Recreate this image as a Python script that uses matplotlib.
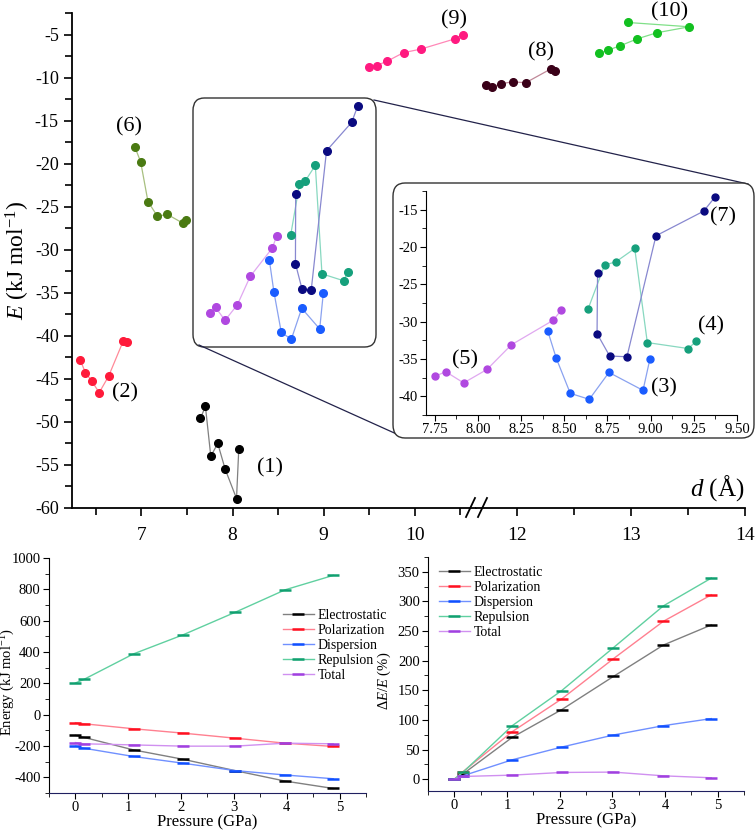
import matplotlib.pyplot as plt
import matplotlib.patches as mpatches
from matplotlib.lines import Line2D
from matplotlib.ticker import MultipleLocator, FormatStrFormatter

plt.rcParams['font.family'] = ['Liberation Serif', 'DejaVu Serif']
plt.rcParams['mathtext.fontset'] = 'custom'
plt.rcParams['mathtext.rm'] = 'Liberation Serif'
plt.rcParams['mathtext.it'] = 'Liberation Serif:italic'
plt.rcParams['axes.unicode_minus'] = False

# ---- top panel: E vs d for the ten dimers ----
d1 = [7.648, 7.703, 7.762, 7.838, 7.920, 8.044, 8.069]
e1 = [-49.6, -48.2, -54.0, -52.5, -55.5, -58.9, -53.1]
d2 = [6.330, 6.388, 6.454, 6.538, 6.641, 6.802, 6.846]
e2 = [-42.8, -44.3, -45.2, -46.6, -44.7, -40.6, -40.7]
d3 = [8.404, 8.454, 8.535, 8.645, 8.759, 8.956, 8.996]
e3 = [-31.2, -34.9, -39.6, -40.4, -36.8, -39.2, -35.0]
d4 = [8.638, 8.734, 8.798, 8.908, 8.981, 9.218, 9.265]
e4 = [-28.3, -22.4, -22.0, -20.2, -32.8, -33.6, -32.6]
d5 = [7.754, 7.814, 7.918, 8.053, 8.194, 8.437, 8.484]
e5 = [-37.3, -36.7, -38.2, -36.4, -33.1, -29.8, -28.4]
d6 = [6.931, 6.993, 7.073, 7.176, 7.286, 7.454, 7.495]
e6 = [-18.1, -19.8, -24.4, -26.1, -25.9, -26.9, -26.6]
d7 = [8.693, 8.690, 8.763, 8.863, 9.031, 9.307, 9.373]
e7 = [-23.5, -31.6, -34.6, -34.7, -18.5, -15.2, -13.3]
d8 = [11.728, 11.783, 11.862, 11.962, 12.076, 12.296, 12.336]
e8 = [-10.9, -11.1, -10.7, -10.5, -10.6, -9.0, -9.2]
d9 = [9.498, 9.579, 9.696, 9.876, 10.063, 10.440, 10.527]
e9 = [-8.8, -8.6, -8.1, -7.1, -6.7, -5.5, -5.0]
d10 = [12.719, 12.801, 12.906, 13.055, 13.225, 13.511, 12.971]
e10 = [-7.2, -6.8, -6.3, -5.5, -4.8, -4.1, -3.6]

# ---- bottom panels: energy terms vs pressure ----
pressure = [0.0, 0.16, 1.1, 2.04, 3.02, 3.97, 4.88]
terms = ['Electrostatic', 'Polarization', 'Dispersion', 'Repulsion', 'Total']
energy_elec = [-132, -145, -225, -285, -357, -424, -471]
energy_pol = [-51, -58, -90, -118, -150, -182, -203]
energy_disp = [-201, -214, -267, -310, -357, -385, -409]
energy_rep = [202, 225, 388, 510, 653, 797, 889]
energy_tot = [-178, -186, -193, -201, -201, -182, -186]
rel_elec = [0, 8.5, 70.6, 117.4, 173.3, 226.4, 260.3]
rel_pol = [0, 12.4, 80.2, 135.5, 203.3, 266.5, 311.1]
rel_disp = [0, 5.6, 32.7, 54.2, 74.5, 90.3, 102.2]
rel_rep = [0, 11.3, 90.3, 149.6, 221.9, 292.5, 339.4]
rel_tot = [0, 4.5, 6.8, 11.3, 11.9, 5.6, 2.3]

# (marker colour, line colour)
sty = {1: ('#000000', '#808080'), 2: ('#ff1a3a', '#ff8a98'),
       3: ('#1a5cff', '#8aa2f0'), 4: ('#16a07c', '#88d8c0'),
       5: ('#b048e0', '#e0a8f0'), 6: ('#4a7a12', '#a8c080'),
       7: ('#0a0a80', '#8888d0'), 8: ('#3a0018', '#c08898'),
       9: ('#ff1a80', '#ff88b8'), 10: ('#12c020', '#80e088')}
term_sty = [('#000000', '#808080'), ('#ff1020', '#ff8090'),
            ('#1050ff', '#7090ff'), ('#10a070', '#60d0a0'),
            ('#a040e0', '#d090f0')]

W, H = 756, 830
fig = plt.figure(figsize=(W / 100, H / 100), dpi=100)


def fr(x0, y0, x1, y1):
    # pixel box (top-left origin) -> figure rect
    return [x0 / W, (H - y1) / H, (x1 - x0) / W, (y1 - y0) / H]


def series(ax, d, e, k, ms=5.5):
    mc, lc = sty[k]
    ax.plot(d, e, '-', color=lc, lw=0.9, zorder=2)
    ax.plot(d, e, 'o', color=mc, ms=ms, mec=mc, zorder=3)


axL = fig.add_axes(fr(72, 13, 476, 508))
axR = fig.add_axes(fr(476, 13, 745, 508), sharey=axL)
for ax in (axL, axR):
    ax.spines['top'].set_visible(False)
    ax.spines['right'].set_visible(False)
    ax.tick_params(direction='out', labelsize=14, length=6, width=1.2)
    ax.tick_params(which='minor', direction='out', length=5, width=1.2)
    ax.spines['bottom'].set_linewidth(1.3)
    ax.spines['left'].set_linewidth(1.3)
axR.spines['left'].set_visible(False)
axR.tick_params(axis='y', which='both', left=False, labelleft=False)

axL.set_xlim(6.24, 10.67)
axR.set_xlim(11.64, 14.0)
axL.set_ylim(-60, -2.5)
axL.xaxis.set_major_locator(MultipleLocator(1))
axL.xaxis.set_minor_locator(MultipleLocator(0.5))
axR.xaxis.set_major_locator(MultipleLocator(1))
axR.xaxis.set_minor_locator(MultipleLocator(0.5))
axL.yaxis.set_major_locator(MultipleLocator(5))
axL.yaxis.set_minor_locator(MultipleLocator(2.5))
axL.tick_params(axis='y', labelsize=13)
axL.tick_params(axis='x', pad=8)
axR.tick_params(axis='x', pad=8)
axL.set_ylabel(r'$E$ (kJ mol$^{-1}$)', fontsize=17, labelpad=2)

for d, e, k in [(d1, e1, 1), (d2, e2, 2), (d3, e3, 3), (d4, e4, 4),
                (d5, e5, 5), (d6, e6, 6), (d7, e7, 7), (d9, e9, 9)]:
    series(axL, d, e, k)
series(axR, d8, e8, 8)
series(axR, d10, e10, 10)

axL.text(6.87, -15.75, '(6)', fontsize=16, ha='center', va='center')
axL.text(6.825, -46.65, '(2)', fontsize=16, ha='center', va='center')
axL.text(8.41, -55.35, '(1)', fontsize=16, ha='center', va='center')
axL.text(10.43, -3.3, '(9)', fontsize=16, ha='center', va='center')
axR.text(12.21, -7.0, '(8)', fontsize=16, ha='center', va='center')
axR.text(13.34, -2.4, '(10)', fontsize=16, ha='center', va='center')
fig.text(744 / W, (H - 503) / H, r'$d$ (Å)', fontsize=18, ha='right', va='bottom')

# axis break marks
for x0 in (466, 478):
    fig.add_artist(Line2D([x0 / W, (x0 + 9) / W], [(H - 517) / H, (H - 498) / H],
                          color='black', lw=1.3))

# zoom box, connectors and inset frame
fig.add_artist(mpatches.FancyBboxPatch((193 / W, (H - 347) / H), 183 / W, 249 / H,
                                       boxstyle='round,pad=0,rounding_size=0.015',
                                       transform=fig.transFigure, fc='none',
                                       ec='#333333', lw=1.0, zorder=2))
fig.add_artist(Line2D([374 / W, 748 / W], [(H - 100) / H, (H - 184) / H],
                      color='#22224a', lw=0.9, zorder=2))
fig.add_artist(Line2D([199 / W, 401 / W], [(H - 345) / H, (H - 436) / H],
                      color='#22224a', lw=0.9, zorder=2))
fig.add_artist(mpatches.FancyBboxPatch((393 / W, (H - 438) / H), 361 / W, 255 / H,
                                       boxstyle='round,pad=0,rounding_size=0.016',
                                       transform=fig.transFigure, fc='white',
                                       ec='#333333', lw=1.0, zorder=2.5))

axI = fig.add_axes(fr(426, 191, 737, 415), zorder=3)
axI.patch.set_alpha(0)
axI.spines['top'].set_visible(False)
axI.spines['right'].set_visible(False)
axI.set_xlim(7.70, 9.50)
axI.set_ylim(-42.5, -12.5)
axI.xaxis.set_major_locator(MultipleLocator(0.25))
axI.xaxis.set_minor_locator(MultipleLocator(0.125))
axI.xaxis.set_major_formatter(FormatStrFormatter('%.2f'))
axI.yaxis.set_major_locator(MultipleLocator(5))
axI.yaxis.set_minor_locator(MultipleLocator(2.5))
axI.tick_params(direction='out', labelsize=10.5, length=4, pad=2)
axI.tick_params(which='minor', direction='out', length=3)
for d, e, k in [(d3, e3, 3), (d4, e4, 4), (d5, e5, 5), (d7, e7, 7)]:
    series(axI, d, e, k, ms=5)
axI.text(9.42, -15.9, '(7)', fontsize=16, ha='center', va='center')
axI.text(7.925, -35.15, '(5)', fontsize=16, ha='center', va='center')
axI.text(9.35, -30.6, '(4)', fontsize=16, ha='center', va='center')
axI.text(9.08, -38.8, '(3)', fontsize=16, ha='center', va='center')


# ---- bottom panels ----
def term_axes(rect):
    ax = fig.add_axes(rect)
    ax.spines['top'].set_visible(False)
    ax.spines['right'].set_visible(False)
    ax.spines['bottom'].set_color('#202060')
    ax.set_xlim(-0.5, 5.5)
    ax.xaxis.set_major_locator(MultipleLocator(1))
    ax.xaxis.set_minor_locator(MultipleLocator(0.5))
    ax.tick_params(direction='out', labelsize=10.5, length=4, pad=2)
    ax.tick_params(which='minor', direction='out', length=3)
    ax.set_xlabel('Pressure (GPa)', fontsize=12, labelpad=0)
    return ax


axE = term_axes(fr(49, 558, 366, 793))
axE.set_ylim(-500, 1000)
axE.yaxis.set_major_locator(MultipleLocator(200))
axE.yaxis.set_minor_locator(MultipleLocator(100))
axE.set_ylabel('Energy (kJ mol$^{-1}$)', fontsize=10.5)
axE.yaxis.set_label_coords(-0.1, 0.47)
for vals, lab, (mc, lc) in zip([energy_elec, energy_pol, energy_disp, energy_rep, energy_tot],
                               terms, term_sty):
    axE.plot(pressure, vals, '-', color=lc, lw=1.0, marker='_', ms=9,
             mew=1.8, mec=mc, label=lab)
axE.legend(loc='upper left', bbox_to_anchor=(283 / W, (H - 609) / H),
           bbox_transform=fig.transFigure, frameon=False, fontsize=10,
           handlelength=2.2, handletextpad=0.3, labelspacing=0.15,
           borderpad=0, borderaxespad=0, numpoints=1)

axP = term_axes(fr(428, 557, 744, 791))
axP.set_ylim(-20, 375)
axP.yaxis.set_major_locator(MultipleLocator(50))
axP.yaxis.set_minor_locator(MultipleLocator(25))
axP.set_ylabel(r'$\Delta E/E$ (%)', fontsize=10.5)
axP.yaxis.set_label_coords(-0.11, 0.47)
for vals, lab, (mc, lc) in zip([rel_elec, rel_pol, rel_disp, rel_rep, rel_tot],
                               terms, term_sty):
    axP.plot(pressure, vals, '-', color=lc, lw=1.0, marker='_', ms=9,
             mew=1.8, mec=mc, label=lab)
axP.legend(loc='upper left', bbox_to_anchor=(439 / W, (H - 566) / H),
           bbox_transform=fig.transFigure, frameon=False, fontsize=10,
           handlelength=2.2, handletextpad=0.3, labelspacing=0.15,
           borderpad=0, borderaxespad=0, numpoints=1)

fig.savefig('out.png', dpi=100)
